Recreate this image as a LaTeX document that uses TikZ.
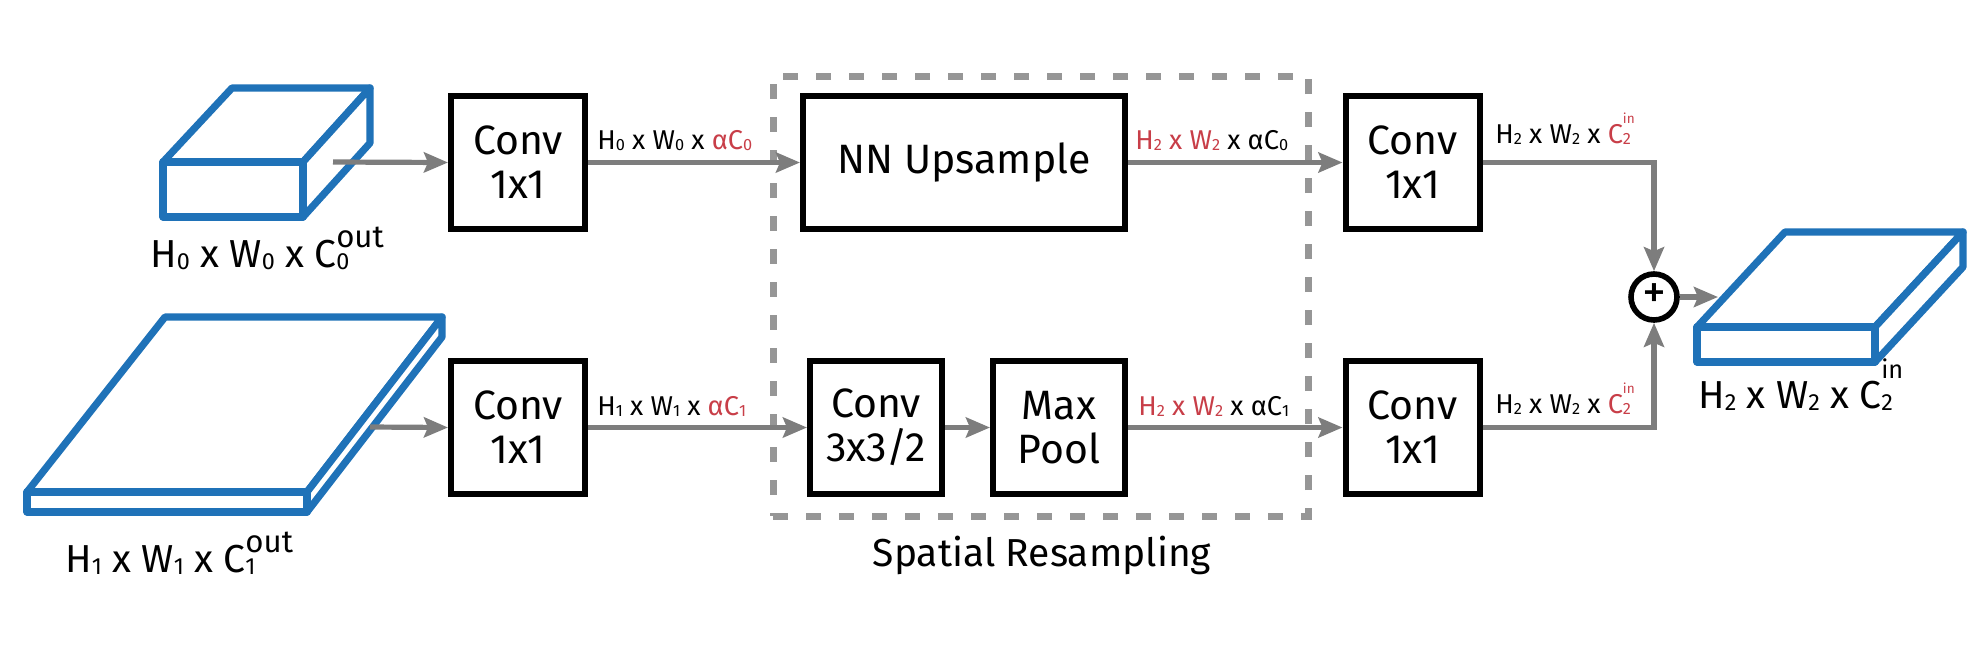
\documentclass[tikz,border=0pt]{standalone}
\usepackage{fontspec}
\setmainfont{Fira Sans}
\usetikzlibrary{arrows.meta}
\definecolor{blu}{RGB}{31,114,184}
\definecolor{redl}{RGB}{200,62,72}
\definecolor{arr}{RGB}{125,125,125}
\definecolor{dsh}{RGB}{150,150,150}
\newcommand{\lo}[1]{\raisebox{-0.1ex}{\scalebox{0.6}{#1}}}
\newcommand{\cso}[4]{C\rlap{\lo{#1}}\raisebox{#3}{\scalebox{#4}{#2}}}
\tikzset{
  box/.style={draw, line width=3pt, minimum width=67pt, minimum height=66.5pt, align=center,
    font=\fontsize{20.5}{22}\selectfont, inner sep=0pt},
  lbl/.style={font=\fontsize{13.6}{15}\selectfont, inner sep=0pt, anchor=base west},
  big/.style={font=\fontsize{19.5}{22}\selectfont, inner sep=0pt, anchor=base west},
  conn/.style={draw=arr, line width=2.6pt, -{Stealth[length=12pt,width=10pt,inset=2pt]}},
  cube/.style={draw=blu, line width=3.6pt, line join=round, fill=white},
  frame/.style={draw=dsh, line width=3.5pt, dash pattern=on 7.5pt off 9pt, inner sep=0pt}
}
\begin{document}
\begin{tikzpicture}[x=0.5pt,y=-0.5pt]
\useasboundingbox (0,0) rectangle (1986,644);
% input cuboid 0
\draw[cube] (163,162) -- (232,88) -- (370,88) -- (303,162) -- cycle;
\draw[cube] (303,162) -- (370,88) -- (370,143) -- (303,217) -- cycle;
\draw[cube] (163,162) rectangle (303,217);
\coordinate (in0) at (333,162);
\node[big] (lab0) at (150,267) {H\lo{0} x W\lo{0} x \cso{0}{out}{0.5em}{0.8}};
% input slab 1
\draw[cube] (27,492) -- (165,317) -- (442,317) -- (307,492) -- cycle;
\draw[cube] (307,492) -- (442,317) -- (442,337) -- (307,512) -- cycle;
\draw[cube] (27,492) rectangle (307,512);
\coordinate (in1) at (370,427);
\node[big] (lab1) at (65,572) {H\lo{1} x W\lo{1} x \cso{1}{out}{0.5em}{0.8}};
% output slab
\draw[cube] (1697,327) -- (1785,232) -- (1963,232) -- (1875,327) -- cycle;
\draw[cube] (1875,327) -- (1963,232) -- (1963,267) -- (1875,362) -- cycle;
\draw[cube] (1697,327) rectangle (1875,362);
\coordinate (out) at (1718,297);
\node[big] (lab2) at (1698,408) {H\lo{2} x W\lo{2} x \cso{2}{in}{0.75em}{0.65}};
% dashed frame
\node[frame, minimum width=267.5pt, minimum height=220pt] (fr) at (1040.5,296) {};
\node[font=\fontsize{19.5}{22}\selectfont, inner sep=0pt, anchor=base] (frl) at (1042,566) {Spatial Resampling};
% boxes
\node[box] (c0) at (518,162.5) {Conv\\1x1};
\node[box] (c1) at (518,427.5) {Conv\\1x1};
\node[box, minimum width=161pt] (nn) at (964,162.5) {NN Upsample};
\node[box, minimum width=66pt] (c3) at (876,427.5) {Conv\\3x3/2};
\node[box, minimum width=66pt] (mp) at (1059,427.5) {Max\\Pool};
\node[box] (r0) at (1412.5,162.5) {Conv\\1x1};
\node[box] (r1) at (1412.5,427.5) {Conv\\1x1};
\node[draw, circle, line width=2.8pt, minimum size=23pt, inner sep=0pt, font=\fontsize{24}{24}\selectfont] (pl) at (1654,297) {\raisebox{0.05ex}{+}};
% connectors
\draw[conn] (in0) -- (c0.west);
\draw[conn] (in1) -- (c1.west);
\draw[conn] (c0.east) -- (nn.west);
\draw[conn] (c1.east) -- (c3.west);
\draw[conn] (c3.east) -- (mp.west);
\draw[conn] (nn.east) -- (r0.west);
\draw[conn] (mp.east) -- (r1.west);
\draw[conn] (r0.east) -| (pl.north);
\draw[conn] (r1.east) -| (pl.south);
\draw[conn] (pl.east) -- (out);
% labels on connectors
\node[lbl] (t0) at (597,149) {H\lo{0} x W\lo{0} x \textcolor{redl}{αC\lo{0}}};
\node[lbl] (t1) at (597,415) {H\lo{1} x W\lo{1} x \textcolor{redl}{αC\lo{1}}};
\node[lbl] (t2) at (1135,149) {\textcolor{redl}{H\lo{2} x W\lo{2}} x αC\lo{0}};
\node[lbl] (t3) at (1138,415) {\textcolor{redl}{H\lo{2} x W\lo{2}} x αC\lo{1}};
\node[lbl] (t4) at (1495,143) {H\lo{2} x W\lo{2} x \textcolor{redl}{\cso{2}{in}{0.72em}{0.5}}};
\node[lbl] (t5) at (1495,413) {H\lo{2} x W\lo{2} x \textcolor{redl}{\cso{2}{in}{0.72em}{0.5}}};
\end{tikzpicture}
\end{document}
